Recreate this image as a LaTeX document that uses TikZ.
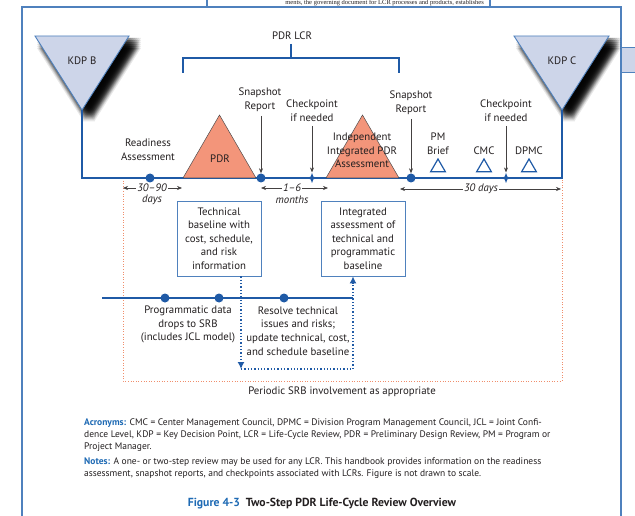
\documentclass[tikz,border=0pt]{standalone}
\usepackage{fontspec}
\setmainfont{PT Sans}
\newfontfamily\pageserif{Liberation Serif}
\usetikzlibrary{arrows.meta,shapes.geometric}
\definecolor{frameblue}{HTML}{4F81BD}
\definecolor{lineblue}{HTML}{1F5AA6}
\definecolor{kdpfill}{HTML}{CDD5E9}
\definecolor{pdrfill}{HTML}{F3957A}
\definecolor{srborange}{HTML}{F08E6C}
\definecolor{labelblue}{HTML}{1E6AB4}
\definecolor{txt}{HTML}{231F20}
\tikzset{
  lbl/.style={align=center, inner sep=0pt, text=txt, font=\fontsize{10.8}{13.6}\selectfont},
  dimtxt/.style={inner sep=1pt, fill=white, text=txt, font=\fontsize{10.8}{12}\selectfont\itshape},
  tline/.style={draw=lineblue, line width=1.6pt},
  kdptri/.style={draw=frameblue, fill=kdpfill, line width=0.9pt},
  shadowlayer/.style={fill=black, fill opacity=0.09},
  revtri/.style={draw=txt!80, fill=pdrfill, line width=0.5pt},
  dotmark/.style={circle, fill=lineblue, inner sep=0pt, minimum size=9pt},
  starmark/.style={star, star points=4, star point ratio=2.6, fill=lineblue, inner sep=0pt, minimum size=10pt},
  hollowtri/.style={regular polygon, regular polygon sides=3, draw=lineblue, line width=1.2pt, inner sep=0pt, minimum size=17pt},
  ptr/.style={draw=txt!85, line width=0.6pt, -{Stealth[length=5pt,width=4pt]}},
  dimarrow/.style={draw=txt!85, line width=0.6pt, {Stealth[length=5pt,width=4pt]}-{Stealth[length=5pt,width=4pt]}},
  infobox/.style={draw=frameblue, line width=0.8pt, align=center, text=txt, minimum width=84pt, minimum height=75pt, inner sep=0pt, font=\fontsize{10.8}{13.6}\selectfont},
  flowdot/.style={draw=lineblue, line width=1.3pt, dotted},
  srb/.style={draw=srborange, line width=1pt, dash pattern=on 1pt off 1.6pt},
}
\begin{document}
\begin{tikzpicture}[x=1pt,y=-1pt]
\useasboundingbox (0,0) rectangle (635,516);
\clip (0,0) rectangle (635,516);
\fill[white] (0,0) rectangle (635,516);
% page artefacts
\draw[frameblue, line width=1.3pt] (207,-3) -- (207,7);
\draw[frameblue, line width=1.3pt] (490,-3) -- (490,7);
\node[anchor=base east, inner sep=0pt, font=\pageserif\fontsize{6.5}{7}\selectfont, text=txt] (pagetxt) at (484,5) {ments, the governing document for LCR processes and products, establishes};
\draw[frameblue, line width=1.5pt] (22,530) -- (22,7) -- (621,7) -- (621,530);
\draw[frameblue, fill=kdpfill, line width=1pt] (621,48) rectangle (645,73);

% soft shadows of KDP triangles
\foreach \dx in {2,4,6,8,10,12}{
  \foreach \dy in {2,4,6,8,10,12}{
    \begin{scope}[xshift=\dx pt, yshift=-\dy pt]
      \fill[shadowlayer] (35,36) -- (129,36) -- (82,110) -- cycle;
      \fill[shadowlayer] (514,36) -- (609,36) -- (562,110) -- cycle;
    \end{scope}
  }
}
% KDP triangles
\draw[kdptri] (35,36) -- (129,36) -- (82,110) -- cycle;
\node[lbl] (kdpb) at (82,61) {KDP B};
\draw[kdptri] (514,36) -- (609,36) -- (562,110) -- cycle;
\node[lbl] (kdpc) at (562,61) {KDP C};
\coordinate (kb) at (82,110);
\coordinate (kc) at (562,110);

% SRB dotted frame
\coordinate (s1) at (123,178);
\coordinate (s2) at (123,381);
\coordinate (s3) at (562,381);
\coordinate (s4) at (562,178);
\draw[srb] (s1) -- (s2) -- (s3) -- (s4);
\node[lbl] (srbtxt) at (342,392) {Periodic SRB involvement as appropriate};

% main timeline
\draw[tline] (kb) -- (82,178) -- (562,178) -- (kc);

% PDR LCR bracket
\node[lbl] (lcr) at (292,36) {PDR LCR};
\draw[tline] (291,44) -- (291,58);
\draw[tline] (183,73) -- (183,58) -- (399,58) -- (399,73);

% review triangles
\draw[revtri] (183,178) -- (219.5,115) -- (256,178) -- cycle;
\node[lbl] (pdr) at (220,159) {PDR};
\draw[revtri] (326,178) -- (362.5,115) -- (399,178) -- cycle;
\node[lbl] (iipa) at (362,150.5) {Independent\\Integrated PDR\\Assessment};

% markers
\node[dotmark] (d1) at (150,178) {};
\node[dotmark] (d2) at (261,178) {};
\node[dotmark] (d3) at (411,178) {};
\node[starmark] (c1) at (312,178) {};
\node[starmark] (c2) at (506,178) {};
\node[hollowtri] (t1) at (438,167.5) {};
\node[hollowtri] (t2) at (484,167.5) {};
\node[hollowtri] (t3) at (529,167.5) {};

% labels
\node[lbl] (ready) at (148,150) {Readiness\\Assessment};
\node[lbl] (snap1) at (260,100) {Snapshot\\Report};
\node[lbl] (chk1) at (312,111) {Checkpoint\\if needed};
\node[lbl] (snap2) at (411,103) {Snapshot\\Report};
\node[lbl] (pmb) at (438,144) {PM\\Brief};
\node[lbl] (cmc) at (484,151) {CMC};
\node[lbl] (chk2) at (506,111) {Checkpoint\\if needed};
\node[lbl] (dpmc) at (529,151) {DPMC};

\draw[ptr] (snap1.south -| d2) ++(0,4) -- (d2.north);
\draw[ptr] (chk1.south) ++(0,4) -- (c1.north);
\draw[ptr] (snap2.south -| d3) ++(0,4) -- (d3.north);
\draw[ptr] (chk2.south) ++(0,4) -- (c2.north);

% dimensions
\coordinate (a1) at (123,188); \coordinate (a2) at (182,188);
\draw[dimarrow] (a1) -- (a2);
\node[dimtxt] (dim1) at (152,188) {30--90};
\node[dimtxt, fill=none] (dim1b) at (152,200) {days};
\coordinate (b1) at (261,188); \coordinate (b2) at (328,188);
\draw[dimarrow] (b1) -- (b2);
\node[dimtxt] (dim2) at (292,188) {1--6};
\node[dimtxt, fill=none] (dim2b) at (292,200) {months};
\coordinate (e1) at (400,189); \coordinate (e2) at (561,189);
\draw[dimarrow] (e1) -- (e2);
\node[dimtxt] (dim3) at (481,189) {30 days};

% boxes
\node[infobox] (tech) at (219,238.5) {Technical\\baseline with\\cost, schedule,\\and risk\\information};
\node[infobox] (integ) at (363,238.5) {Integrated\\assessment of\\technical and\\programmatic\\baseline};

% lower timeline
\coordinate (l0) at (102,298);
\coordinate (l1) at (353,298);
\draw[tline] (l0) -- (l1);
\node[dotmark] (p1) at (165,298) {};
\node[dotmark] (p2) at (219,298) {};
\node[dotmark] (p3) at (284,298) {};
\node[lbl] (prog) at (188,324.5) {Programmatic data\\drops to SRB\\(includes JCL model)};
\node[lbl] (resolve) at (298,331) {Resolve technical\\issues and risks;\\update technical, cost,\\and schedule baseline};

% flow
\coordinate (f1) at (241,369);
\coordinate (f2) at (353,369);
\draw[flowdot, -{Latex[length=7pt,width=7pt]}] (tech.south -| f1) -- (f1);
\draw[flowdot, -{Latex[length=7pt,width=7pt]}] (f1) -- (f2) -- (integ.south -| f2);

% bottom text
\node[anchor=north west, align=left, inner sep=0pt, text=txt, font=\fontsize{9.5}{11.6}\selectfont] (acr) at (84,419) {%
{\bfseries\color{labelblue}Acronyms:} CMC = Center Management Council, DPMC = Division Program Management Council, JCL = Joint Confi-\\
dence Level, KDP = Key Decision Point, LCR = Life-Cycle Review, PDR = Preliminary Design Review, PM = Program or\\
Project Manager.};
\node[anchor=north west, align=left, inner sep=0pt, text=txt, font=\fontsize{9.5}{11.6}\selectfont] (notes) at (84,458) {%
{\bfseries\color{labelblue}Notes:} A one- or two-step review may be used for any LCR. This handbook provides information on the readiness\\
assessment, snapshot reports, and checkpoints associated with LCRs. Figure is not drawn to scale.};
\node[inner sep=0pt, text=txt, font=\fontsize{11.7}{13}\selectfont\bfseries] (cap) at (322,504) {{\color{labelblue}Figure 4-3}\hspace{6pt}Two-Step PDR Life-Cycle Review Overview};
\end{tikzpicture}
\end{document}
